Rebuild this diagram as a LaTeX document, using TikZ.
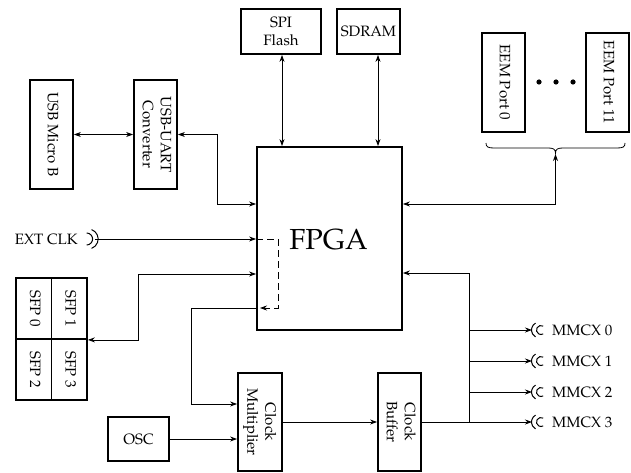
\documentclass[tikz,border=0pt]{standalone}
\usepackage[T1]{fontenc}
\usepackage{mathpazo}
\usetikzlibrary{arrows.meta}
\newcommand{\vlab}[1]{\rotatebox{-90}{\begin{tabular}{@{}c@{}}#1\end{tabular}}}
\begin{document}
\begin{tikzpicture}[x=1pt,y=-1pt,
  every node/.style={font=\fontsize{15}{18}\selectfont, inner sep=0pt},
  blk/.style={draw, line width=1.8pt, inner sep=0pt, align=center},
  con/.style={line width=0.8pt},
  sym/.style={line width=1pt},
  dsh/.style={line width=0.8pt, dash pattern=on 7pt off 4pt},
  >={Stealth[length=7pt,width=5pt]}]
\useasboundingbox (0,0) rectangle (631,473);
% blocks
\node[blk, minimum width=43pt, minimum height=109pt] (usbm) at (51.5,134.5) {\vlab{USB Micro B}};
\node[blk, minimum width=43pt, minimum height=109pt] (uart) at (155.5,134.5) {\vlab{USB-UART\\Converter}};
\node[blk, minimum width=80pt, minimum height=45pt] (spi) at (281,31.5) {SPI\\Flash};
\node[blk, minimum width=63pt, minimum height=45pt] (sdram) at (368.5,31.5) {SDRAM};
\node[blk, minimum width=43pt, minimum height=99pt] (eem0) at (503.5,82.5) {\vlab{EEM Port 0}};
\node[blk, minimum width=43pt, minimum height=99pt] (eem11) at (607.5,82.5) {\vlab{EEM Port 11}};
\node[blk, minimum width=145pt, minimum height=183pt] (fpga) at (329.5,238.5) {};
\node[font=\fontsize{29}{34}\selectfont] (fpgalbl) at (328.5,239.5) {FPGA};
\node[blk, minimum width=35.5pt, minimum height=61pt] (sfp0) at (33.75,308.5) {\vlab{SFP 0}};
\node[blk, minimum width=35.5pt, minimum height=61pt] (sfp1) at (69.25,308.5) {\vlab{SFP 1}};
\node[blk, minimum width=35.5pt, minimum height=61pt] (sfp2) at (33.75,369.5) {\vlab{SFP 2}};
\node[blk, minimum width=35.5pt, minimum height=61pt] (sfp3) at (69.25,369.5) {\vlab{SFP 3}};
\node[blk, minimum width=61pt, minimum height=44pt] (osc) at (138.5,439) {OSC};
\node[blk, minimum width=44pt, minimum height=98pt] (cmul) at (260,422) {\vlab{Clock\\Multiplier}};
\node[blk, minimum width=43pt, minimum height=98pt] (cbuf) at (399.5,422) {\vlab{Clock\\Buffer}};
% labels
\node[anchor=east] (ext) at (78,239) {EXT CLK};
\node[anchor=west] (lm0) at (552,330) {MMCX 0};
\node[anchor=west] (lm1) at (552,361) {MMCX 1};
\node[anchor=west] (lm2) at (552,392) {MMCX 2};
\node[anchor=west] (lm3) at (552,422) {MMCX 3};
% coordinates
\coordinate (extpin) at (95,239);
\coordinate (uartbend) at (217,204);
\coordinate (sfpbend) at (138,274);
\coordinate (cmbend) at (191,404);
\coordinate (dtop) at (278,239);
\coordinate (dbot) at (278,308);
\coordinate (dend) at (260,308);
\coordinate (bracetip) at (555.5,154);
\coordinate (jn) at (469,422);
\coordinate (jtop) at (469,273);
\coordinate (m0) at (532,330);
\coordinate (m1) at (532,361);
\coordinate (m2) at (532,392);
\coordinate (m3) at (532,422);
% dots
\fill (539,82) circle[radius=2.6pt] (556,82) circle[radius=2.6pt] (573,82) circle[radius=2.6pt];
% brace
\draw[con] (486,143) .. controls (486,147) and (488,148) .. (494,148) -- (548,148)
  .. controls (553,148) and (555.5,149) .. (555.5,153)
  .. controls (555.5,149) and (558,148) .. (563,148) -- (617,148)
  .. controls (623,148) and (625,147) .. (625,143);
% connectors
\draw[con,<->] (usbm.east) -- (uart.west);
\draw[con,<->] (uart.east) -| (uartbend) -- (fpga.west |- uartbend);
\draw[con,<->] (spi.south -| 282,0) -- (fpga.north -| 282,0);
\draw[con,<->] (sdram.south -| 378,0) -- (fpga.north -| 378,0);
\draw[con,<->] (fpga.east |- uartbend) -| (bracetip);
\draw[con,->] (extpin) -- (fpga.west |- extpin);
\draw[dsh,->] (fpga.west |- extpin) -- (dtop) -- (dbot) -- (dend);
\draw[con,->] (fpga.west |- dbot) -| (cmbend) -- (cmul.west |- cmbend);
\draw[con,<->] (sfp1.south east) -| (sfpbend) -- (fpga.west |- sfpbend);
\draw[con,->] (osc.east) -- (cmul.west |- osc.east);
\draw[con,->] (cmul.east) -- (cbuf.west);
\draw[con,->] (cbuf.east) -- (m3);
\draw[con,->] (jn) -- (jtop) -- (fpga.east |- jtop);
\draw[con,->] (jn |- m0) -- (m0);
\draw[con,->] (jn |- m1) -- (m1);
\draw[con,->] (jn |- m2) -- (m2);
% EXT CLK connector symbol
\draw[sym] (extpin) ++(-3.42,-9.4) arc[start angle=-70, end angle=70, radius=10];
\draw[sym] (extpin) ++(-8.4,-6.0) arc[start angle=-90, end angle=90, radius=6];
% MMCX connector symbols
\foreach \m in {m0,m1,m2,m3}{
  \draw[sym] (\m) ++(3.5,-6.9) arc[start angle=240, end angle=120, radius=8];
  \draw[sym] (\m) ++(11.2,-3.9) arc[start angle=300, end angle=60, radius=4.5];
}
\end{tikzpicture}
\end{document}
